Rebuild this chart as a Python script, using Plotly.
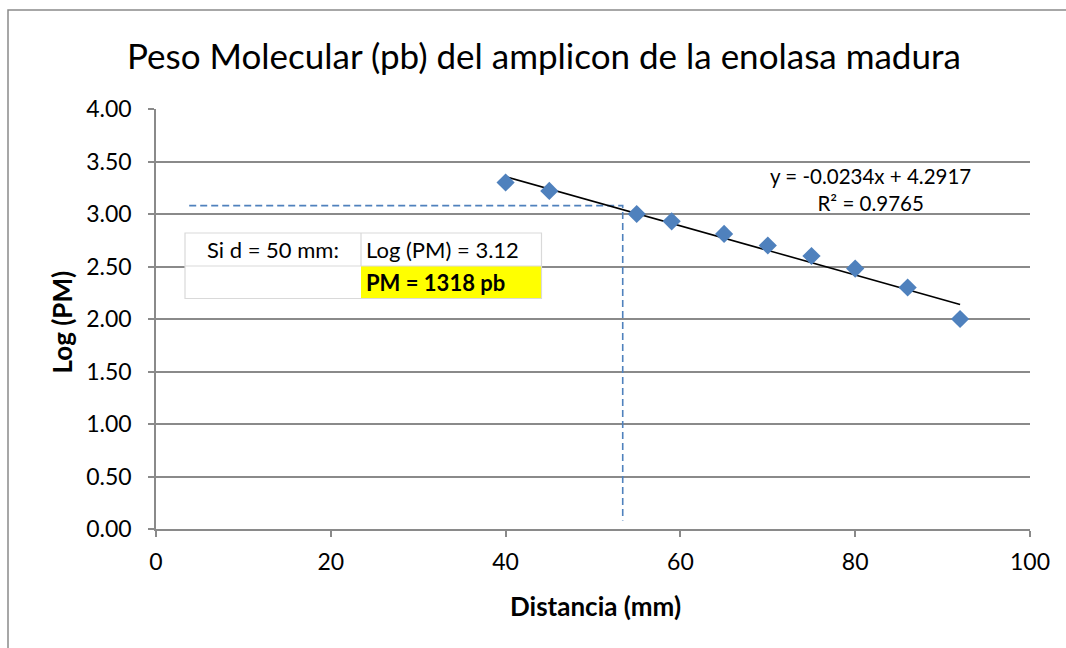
import plotly.graph_objects as go

# ---- data ----
distancia_mm = [40, 45, 55, 59, 65, 70, 75, 80, 86, 92]
log_pm = [3.30, 3.22, 3.00, 2.93, 2.81, 2.70, 2.60, 2.48, 2.30, 2.00]
slope = -0.0234
intercept = 4.2917
r2 = 0.9765
guide_x = [3.8, 53.4, 53.4]
guide_y = [3.08, 3.08, 0.08]
table_labels = ["Si d = 50 mm:", "Log (PM) = 3.12", "PM = 1318 pb"]
title_text = "Peso Molecular (pb) del amplicon de la enolasa madura"
x_title = "Distancia (mm)"
y_title = "Log (PM)"

FONT = "Lato, 'Open Sans', sans-serif"
W, H = 1066, 648
L, R, T, B = 156, 36, 109, 119
PW, PH = W - L - R, H - T - B


def px(xp):
    return (xp - L) / PW


def py(yp):
    return (H - B - yp) / PH


fit_x = [min(distancia_mm), max(distancia_mm)]
fit_y = [slope * v + intercept for v in fit_x]

fig = go.Figure()
fig.add_trace(go.Scatter(x=guide_x, y=guide_y, mode="lines",
                         line=dict(color="#4F81BD", width=1.6, dash="7px,4px"),
                         hoverinfo="skip", showlegend=False))
fig.add_trace(go.Scatter(x=fit_x, y=fit_y, mode="lines",
                         line=dict(color="black", width=1.6),
                         showlegend=False))
fig.add_trace(go.Scatter(x=distancia_mm, y=log_pm, mode="markers",
                         marker=dict(symbol="diamond", size=14, color="#4F81BD",
                                     line=dict(width=0)),
                         showlegend=False))

shapes = []
# outer chart border
shapes.append(dict(type="rect", xref="paper", yref="paper",
                   x0=px(8), x1=px(1075), y0=py(660), y1=py(10),
                   line=dict(color="#8A8A8A", width=1.5), fillcolor="rgba(0,0,0,0)",
                   layer="below"))
# table
tx0, tx1, tsplit = px(185), px(541.5), px(361)
ty0, tmid, ty1 = py(298.5), py(266), py(233)
shapes.append(dict(type="rect", xref="paper", yref="paper", x0=tx0, x1=tx1, y0=ty0, y1=ty1,
                   fillcolor="white", line=dict(width=0), layer="above"))
shapes.append(dict(type="rect", xref="paper", yref="paper", x0=tsplit, x1=tx1, y0=ty0, y1=tmid,
                   fillcolor="#FFFF00", line=dict(width=0), layer="above"))
shapes.append(dict(type="rect", xref="paper", yref="paper", x0=tx0, x1=tx1, y0=ty0, y1=ty1,
                   fillcolor="rgba(0,0,0,0)", line=dict(color="#D9D9D9", width=1.2), layer="above"))
shapes.append(dict(type="line", xref="paper", yref="paper", x0=tx0, x1=tx1, y0=tmid, y1=tmid,
                   line=dict(color="#D9D9D9", width=1.2), layer="above"))
shapes.append(dict(type="line", xref="paper", yref="paper", x0=tsplit, x1=tsplit, y0=tmid, y1=ty1,
                   line=dict(color="#D9D9D9", width=1.2), layer="above"))

annotations = [
    dict(text=title_text, xref="paper", yref="paper", x=px(543.5), y=py(55),
         xanchor="center", yanchor="middle", showarrow=False,
         font=dict(family=FONT, size=35, color="black")),
    dict(text=f"<b>{x_title}</b>", xref="paper", yref="paper", x=px(595.5), y=py(606),
         xanchor="center", yanchor="middle", showarrow=False,
         font=dict(family=FONT, size=26, color="black")),
    dict(text=f"<b>{y_title}</b>", xref="paper", yref="paper", x=px(61), y=py(322.5),
         xanchor="center", yanchor="middle", showarrow=False, textangle=-90,
         font=dict(family=FONT, size=26, color="black")),
    dict(text=f"y = {slope:.4f}x + {intercept:.4f}<br>R² = {r2:.4f}", xref="paper", yref="paper",
         x=px(870), y=py(189), xanchor="center", yanchor="middle", showarrow=False,
         align="center", font=dict(family=FONT, size=20.5, color="black")),
    dict(text=table_labels[0], xref="paper", yref="paper", x=(tx0 + tsplit) / 2, y=(tmid + ty1) / 2,
         xanchor="center", yanchor="middle", showarrow=False,
         font=dict(family=FONT, size=22, color="black")),
    dict(text=table_labels[1], xref="paper", yref="paper", x=px(364), y=(tmid + ty1) / 2,
         xanchor="left", yanchor="middle", showarrow=False,
         font=dict(family=FONT, size=22, color="black")),
    dict(text=f"<b>{table_labels[2]}</b>", xref="paper", yref="paper", x=px(364), y=(ty0 + tmid) / 2,
         xanchor="left", yanchor="middle", showarrow=False,
         font=dict(family=FONT, size=22, color="black")),
]

fig.update_layout(
    width=W, height=H, autosize=False,
    margin=dict(l=L, r=R, t=T, b=B, pad=0),
    paper_bgcolor="white", plot_bgcolor="white",
    font=dict(family=FONT, color="black"),
    shapes=shapes, annotations=annotations,
    showlegend=False,
)
fig.update_xaxes(range=[0, 100], tick0=0, dtick=20, showgrid=False, zeroline=False,
                 showline=True, linecolor="#8A8A8A", linewidth=1.5,
                 ticks="outside", ticklen=6, tickcolor="#8A8A8A", tickwidth=1.5,
                 tickfont=dict(family=FONT, size=23, color="black"), ticklabelstandoff=6)
fig.update_yaxes(range=[0, 4], tick0=0, dtick=0.5, tickformat=".2f",
                 showgrid=True, gridcolor="#8A8A8A", gridwidth=1.5, zeroline=False,
                 showline=True, linecolor="#8A8A8A", linewidth=1.5,
                 ticks="outside", ticklen=6, tickcolor="#8A8A8A", tickwidth=1.5,
                 tickfont=dict(family=FONT, size=23, color="black"), ticklabelstandoff=12)

fig.write_html("out.html")
